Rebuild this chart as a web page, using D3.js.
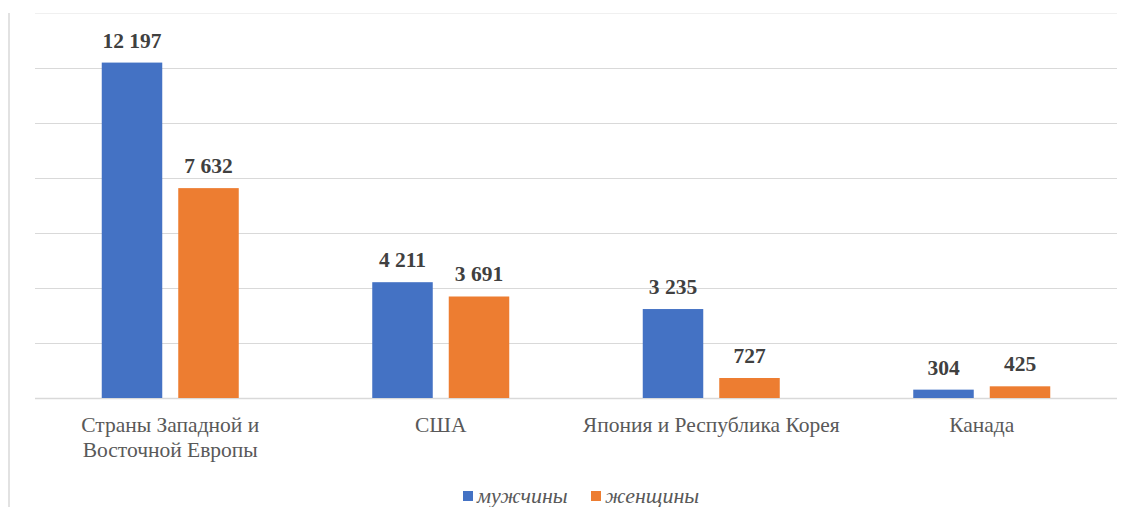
<!DOCTYPE html>
<html>
<head>
<meta charset="utf-8">
<script src="https://cdn.jsdelivr.net/npm/d3@7"></script>
</head>
<body style="margin:0">
<script>
var categories = ["Страны Западной и|Восточной Европы", "США", "Япония и Республика Корея", "Канада"];
var seriesNames = ["мужчины", "женщины"];
var men = [12197, 4211, 3235, 304];
var women = [7632, 3691, 727, 425];
var colors = ["#4472c4", "#ed7d31"];
var yTicks = [0, 2000, 4000, 6000, 8000, 10000, 12000, 14000];

var FONT = "Liberation Serif";

function graficar() {
    var w = 1132;
    var h = 507;

    var svg = d3.select('body')
        .append('svg')
        .attr("width", w)
        .attr("height", h)
        .attr("font-family", FONT)
        .style("font-family", "'" + FONT + "'");

    var x = d3.scaleBand().domain(d3.range(categories.length)).range([35, 1117]);
    var y = d3.scaleLinear().domain([0, 14000]).range([398, 13]);

    // borde izquierdo
    svg.append("line")
        .attr("x1", 9).attr("x2", 9)
        .attr("y1", 13).attr("y2", h)
        .attr("stroke", "#d9d9d9").attr("stroke-width", 1.5);

    // lineas de la grilla
    svg.selectAll("line.grid")
        .data(yTicks)
        .enter()
        .append("line")
        .attr("class", "grid")
        .attr("x1", 35).attr("x2", 1117)
        .attr("y1", function(d) { return Math.round(y(d)) + 0.5; })
        .attr("y2", function(d) { return Math.round(y(d)) + 0.5; })
        .attr("stroke", function(d) { return d == 14000 ? "#f0f0f0" : "#d9d9d9"; })
        .attr("stroke-width", function(d) { return d == 0 ? 1.5 : 1; });

    var datos = [];
    categories.forEach(function(c, i) {
        datos.push({ cat: i, s: 0, v: men[i] });
        datos.push({ cat: i, s: 1, v: women[i] });
    });

    var bw = 60.5;
    var gap = 16;
    function bx(d) {
        var c = x(d.cat) + x.bandwidth() / 2;
        return d.s == 0 ? c - gap / 2 - bw : c + gap / 2;
    }

    svg.selectAll("rect.bar")
        .data(datos)
        .enter()
        .append("rect")
        .attr("class", "bar")
        .attr("x", bx)
        .attr("width", bw)
        .attr("y", function(d) { return y(d.v); })
        .attr("height", function(d) { return y(0) - y(d.v); })
        .attr("fill", function(d) { return colors[d.s]; });

    var fmt = function(v) {
        return d3.format(",")(v).replace(/,/g, "\u00a0");
    };

    svg.selectAll("text.val")
        .data(datos)
        .enter()
        .append("text")
        .attr("class", "val")
        .attr("x", function(d) { return bx(d) + bw / 2; })
        .attr("y", function(d) { return y(d.v) - 15; })
        .style("font-family", "'" + FONT + "'")
        .style("font-size", "21.5px")
        .style("font-weight", "bold")
        .attr("text-anchor", "middle")
        .attr("fill", "#404040")
        .text(function(d) { return fmt(d.v); });

    // etiquetas de categorias
    categories.forEach(function(c, i) {
        var lines = c.split("|");
        lines.forEach(function(l, j) {
            svg.append("text")
                .attr("x", x(i) + x.bandwidth() / 2)
                .attr("y", 432 + j * 25)
                .style("font-family", "'" + FONT + "'")
                .style("font-size", "21.5px")
                .attr("text-anchor", "middle")
                .attr("fill", "#595959")
                .text(l);
        });
    });

    // leyenda
    var lx = [463, 591];
    seriesNames.forEach(function(s, i) {
        svg.append("rect")
            .attr("x", lx[i]).attr("y", 491)
            .attr("width", 10).attr("height", 10)
            .attr("fill", colors[i]);
        svg.append("text")
            .attr("x", lx[i] + 14)
            .attr("y", 503)
            .style("font-family", "'" + FONT + "'")
            .style("font-size", "22px")
            .style("font-style", "italic")
            .attr("fill", "#595959")
            .text(s);
    });
}

if (document.fonts && document.fonts.load) {
    Promise.all([
        document.fonts.load("20px 'Liberation Serif'"),
        document.fonts.load("bold 20px 'Liberation Serif'"),
        document.fonts.load("italic 20px 'Liberation Serif'")
    ]).then(graficar, graficar);
} else {
    graficar();
}
</script>
</body>
</html>
